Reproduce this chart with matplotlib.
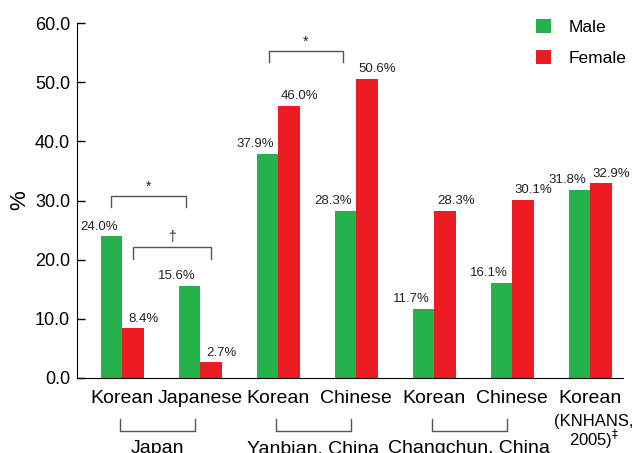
import numpy as np
import matplotlib
matplotlib.use("Agg")
import matplotlib.pyplot as plt

plt.rcParams['font.family'] = ['Liberation Sans', 'DejaVu Sans']

groups = ['Korean', 'Japanese', 'Korean', 'Chinese', 'Korean', 'Chinese', 'Korean']
male = [24.0, 15.6, 37.9, 28.3, 11.7, 16.1, 31.8]
female = [8.4, 2.7, 46.0, 50.6, 28.3, 30.1, 32.9]
regions = ['Japan', 'Yanbian, China', 'Changchun, China']
region_span = [(0, 1), (2, 3), (4, 5)]
green = '#25b14c'
red = '#ed1c24'

fig = plt.figure(figsize=(6.35, 4.53), dpi=100)
ax = fig.add_axes([0.1213, 0.1656, 0.8597, 0.7834])

x = np.arange(len(groups))
w = 0.276
ax.bar(x - w / 2, male, w, color=green, label='Male')
ax.bar(x + w / 2, female, w, color=red, label='Female')

for i in range(len(groups)):
    ax.annotate(f'{male[i]:.1f}%', (x[i] - w - 0.02, male[i]), xytext=(0, 2.5),
                textcoords='offset points', ha='center', va='bottom', fontsize=9.5, color='#222')
    ax.annotate(f'{female[i]:.1f}%', (x[i] + w, female[i]), xytext=(0, 2.5),
                textcoords='offset points', ha='center', va='bottom', fontsize=9.5, color='#222')

ax.set_xlim(-0.577, 6.42)
ax.set_ylim(0, 60)
ax.set_yticks(np.arange(0, 61, 10))
ax.set_yticklabels([f'{v:.1f}' for v in np.arange(0, 61, 10)], fontsize=13)
ax.set_xticks(x)
ax.set_xticklabels(groups, fontsize=14)
ax.tick_params(axis='x', length=0, pad=9)
ax.tick_params(axis='y', direction='in', length=6, pad=5, width=1)
ax.spines['top'].set_visible(False)
ax.spines['right'].set_visible(False)
ax.set_ylabel('%', fontsize=16, labelpad=3)

# significance brackets
gray = '#555555'
def sig(x1, x2, ytop, ybot, mark):
    ax.plot([x1, x1, x2, x2], [ybot, ytop, ytop, ybot], color=gray, lw=1, clip_on=False)
    ax.text((x1 + x2) / 2, ytop + 0.5, mark, ha='center', va='bottom', fontsize=10, color='#222')

sig(0 - w / 2, 1 - w / 2 - 0.04, 30.7, 28.9, '*')
sig(0 + w / 2, 1 + w / 2, 22.1, 20.1, '\u2020')
sig(2 - w / 2 + 0.02, 3 - w / 2 - 0.03, 55.2, 53.4, '*')

# region brackets below axis
trans = ax.get_xaxis_transform()
for name, (a, b) in zip(regions, region_span):
    ax.plot([a - 0.03, a - 0.03, b - 0.06, b - 0.06], [-0.1155, -0.149, -0.149, -0.1155],
            transform=trans, color=gray, lw=1, clip_on=False)
    ax.text((a + b) / 2 - 0.05, -0.212, name, transform=trans, ha='center', va='baseline', fontsize=14)

ax.text(6.05, -0.124, '(KNHANS,', transform=trans, ha='center', va='center', fontsize=12)
ax.text(6.05, -0.172, '2005)$^{\\ddag}$', transform=trans, ha='center', va='center', fontsize=12)

ax.legend(loc='upper right', bbox_to_anchor=(1.035, 1.055), frameon=False, fontsize=12.5,
          handlelength=0.85, handleheight=0.85, handletextpad=1.0, labelspacing=0.85)

fig.savefig('out.png', dpi=100)
